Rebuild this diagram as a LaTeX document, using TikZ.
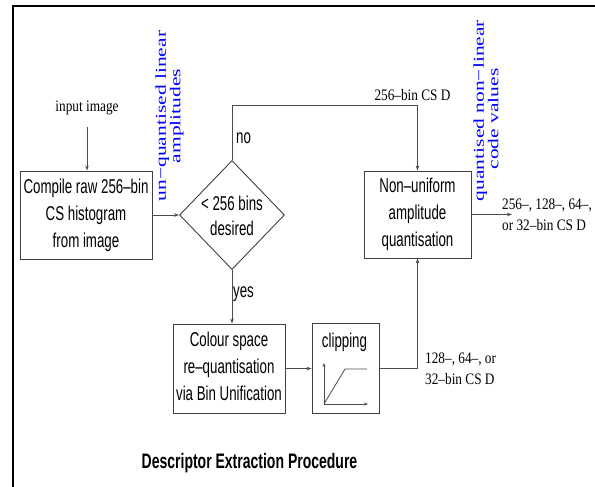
\documentclass[tikz,border=0pt]{standalone}
\usepackage{fontspec}
\setmainfont{Liberation Serif}
\setsansfont{Liberation Sans}
\usetikzlibrary{arrows.meta,shapes.geometric}

% narrow sans text inside the process boxes
\newcommand\boxtxt[2][27]{\scalebox{0.665}[1]{\sffamily\fontsize{20}{#1}\selectfont\begin{tabular}{@{}c@{}}#2\end{tabular}}}
% single-line sans labels
\newcommand\sanslab[1]{\scalebox{0.665}[1]{\sffamily\fontsize{20}{23}\selectfont #1}}
% serif annotations on the flow lines
\newcommand\serlab[1]{\scalebox{0.83}[1]{\rmfamily\fontsize{16}{21}\selectfont\begin{tabular}[t]{@{}l@{}}#1\end{tabular}}}
% vertical blue notes about the value types
\newcommand\bluelab[1]{\rotatebox{90}{\scalebox{1}[0.70]{\rmfamily\fontsize{21.5}{20}\selectfont\color{blue}\begin{tabular}{@{}c@{}}#1\end{tabular}}}}

\begin{document}
\begin{tikzpicture}[x=1pt,y=-1pt,
  procbox/.style={draw=black!75,line width=0.9pt,inner sep=0pt,rectangle},
  decbox/.style={draw=black!75,line width=0.9pt,inner sep=0pt,diamond},
  conn/.style={draw=black!70,line width=0.8pt},
  arr/.style={conn,-{Stealth[length=5pt,width=3.5pt]}},
  smallarr/.style={conn,-{Stealth[length=4pt,width=3pt]}},
  plain/.style={inner sep=0pt}]
\useasboundingbox (0,0) rectangle (595,487);

% frame
\draw[line width=2pt] (12.5,487) -- (12.5,6) -- (595,6);

% process blocks
\node[procbox,minimum width=132pt,minimum height=88pt] (comp) at (86,215)
  {\boxtxt{Compile raw 256–bin\\CS histogram\\from image}};
\node[decbox,minimum width=105pt,minimum height=109pt] (dec) at (232,215) {};
\node[plain] (dectxt) at (232,217.5) {\boxtxt[25]{< 256 bins\\desired}};
\node[procbox,minimum width=107pt,minimum height=87pt] (nu) at (417.5,214.5)
  {\boxtxt{Non–uniform\\amplitude\\quantisation}};
\node[procbox,minimum width=112pt,minimum height=89pt] (col) at (229,368.5)
  {\boxtxt{Colour space\\re–quantisation\\via Bin Unification}};
\node[procbox,minimum width=67pt,minimum height=90pt] (clip) at (345.5,368.5) {};
\node[plain,anchor=base] (cliptxt) at (344.5,347) {\sanslab{clipping}};

% clipping characteristic
\draw[smallarr] (324,404) -- (324,363);
\draw[smallarr] (324,404) -- (368,404);
\draw[conn] (324,404) -- (345,369) -- (367,369);

% labels
\node[plain,anchor=base] (inp) at (87,111) {\serlab{input image}};
\node[plain,anchor=base] (binlab) at (412.5,100) {\serlab{256–bin CS D}};
\node[plain,anchor=base west] (outlab) at (502,209) {\serlab{256–, 128–, 64–,\\or 32–bin CS D}};
\node[plain,anchor=base west] (sublab) at (425,363) {\serlab{128–, 64–, or\\32–bin CS D}};
\node[plain] (lin) at (170,116) {\bluelab{un−quantised linear\\amplitudes}};
\node[plain] (nonlin) at (488,110.5) {\bluelab{quantised non−linear\\code values\hspace*{17pt}}};
\node[plain,anchor=base west] (nolab) at (236,143) {\sanslab{no}};
\node[plain,anchor=base west] (yeslab) at (233,297) {\sanslab{yes}};
\node[plain,anchor=base] (title) at (249.5,468)
  {\scalebox{0.667}[1]{\sffamily\bfseries\fontsize{21}{24}\selectfont Descriptor Extraction Procedure}};

% connectors
\coordinate (nocorner) at (232,105);
\coordinate (outend) at (512,214.5);
\draw[arr,shorten <=9.7pt] (inp.south) -- (inp.south |- comp.north);
\draw[arr] (comp) -- (dec);
\draw[arr] (dec.north) -- (nocorner) -| (nu.north);
\draw[arr] (dec.south) -- (dec.south |- col.north);
\draw[arr] (col) -- (clip);
\draw[arr] (clip.east) -| (nu.south);
\draw[arr] (nu.east) -- (outend);
\end{tikzpicture}
\end{document}
